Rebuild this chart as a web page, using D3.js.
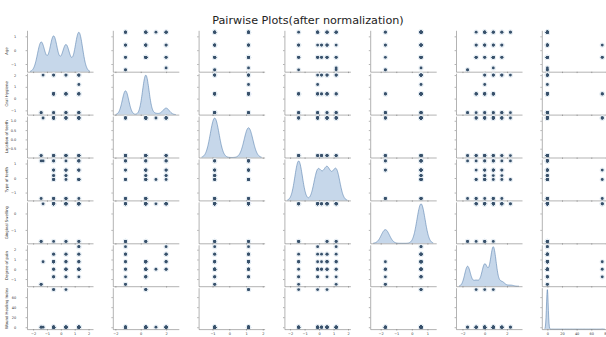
<!DOCTYPE html>
<html><head><meta charset="utf-8">
<script src="https://cdn.jsdelivr.net/npm/d3@7"></script>
<style>body{margin:0;background:#fff}svg{display:block;font-family:"DejaVu Sans",sans-serif}</style>
</head><body>
<svg id="c" width="606" height="337"></svg>
<script>
// ---- DATA (normalized values; each index = a group of identical patients, with its count) ----
const variables = ["Age","Oral Hygiene","Location of teeth","Type of teeth","Gingival Swelling","Degree of pain","Wound Healing Index"];
const age          = [-1.42,-1.42,-1.28, 1.30,-0.52, 0.37,-0.52, 1.30, 1.30, 1.30,-0.52, 0.37,-0.52, 0.37, 1.30,-0.52, 0.37,-0.52, 0.37, 1.30, 1.30, 0.37,-0.52, 0.37, 1.30,-0.52, 1.30, 0.37, 1.30, 0.37,-0.52, 1.30,-0.52, 0.37,-0.52, 1.30, 1.30,-0.52, 0.37, 1.30,-0.52];
const oralHygiene  = [-1.20,-1.20, 2.00, 1.20, 0.40, 0.40, 0.40,-1.20, 2.00,-1.20, 2.00, 0.40, 0.40, 2.00, 2.00,-1.20,-1.20, 0.40, 0.40,-1.20, 0.40, 0.40,-1.20,-1.20, 0.40, 0.40, 2.00, 2.00,-1.20,-1.20, 2.00, 2.00, 0.40, 0.40, 0.40, 0.40, 0.40, 0.40, 0.40, 0.40, 0.40];
const locationTeeth= [-0.87,-0.87, 1.15, 1.15, 1.15, 1.15, 1.15, 1.15,-0.87,-0.87,-0.87,-0.87,-0.87, 1.15, 1.15, 1.15,-0.87, 1.15,-0.87, 1.15,-0.87, 1.15,-0.87,-0.87, 1.15,-0.87,-0.87,-0.87,-0.87, 1.15, 1.15, 1.15,-0.87,-0.87, 1.15,-0.87, 1.15, 1.15, 1.15, 1.15, 1.15];
const typeTeeth    = [-1.41, 1.18, 1.18,-0.10,-0.10, 0.55,-1.41,-0.10, 1.18, 0.55, 0.17, 0.17, 0.17, 0.55,-0.10, 1.18,-0.10,-1.41, 0.55, 0.55,-1.41, 1.18,-0.10,-1.41, 1.18, 0.55, 0.55, 0.17, 1.18,-1.41, 0.55, 1.18,-1.41,-1.41, 1.18,-0.10,-0.10,-0.10, 0.55, 0.55, 0.55];
const gingival     = [-1.70,-1.70, 0.59, 0.59, 0.59, 0.59, 0.59, 0.59, 0.59, 0.59, 0.59, 0.59, 0.59, 0.59, 0.59, 0.59, 0.59,-1.70,-1.70,-1.70, 0.59, 0.59, 0.59,-1.70,-1.70, 0.59, 0.59, 0.59, 0.59, 0.59, 0.59, 0.59, 0.59, 0.59, 0.59, 0.59, 0.59, 0.59, 0.59, 0.59, 0.59];
const pain         = [-1.54,-1.54, 0.77, 0.00,-0.77, 0.00, 0.77, 2.31, 2.31, 1.54, 1.54, 0.77, 0.00, 1.54, 1.54, 1.54,-0.77,-0.77, 0.00, 0.77,-0.77,-0.77, 0.77, 0.00, 0.00,-0.77, 0.00, 0.00, 0.00, 1.54, 0.77, 0.77, 0.77, 0.77, 0.77, 0.00, 0.00, 0.00, 0.77, 0.77, 0.77];
const wound        = [0,0,0,0,75,75,75,0,0,0,0,0,0,0,0,0,0,0,0,0,0,0,0,0,0,0,0,0,0,0,0,0,0,0,0,0,0,0,0,0,0];
const counts       = [120,61,9,13,1,1,1,5,5,8,4,8,5,8,8,7,10,10,10,8,12,10,25,4,3,9,15,2,28,6,14,12,50,49,59,54,40,25,64,40,17];

const xTickLabels = [[-2,-1,0,1,2],[-2,0,2],[-1,0,1,2],[-2,-1,0,1,2],[-2,-1,0,1],[-2,0,2],[0,20,40,60,80]];
const yTickLabels = [[-1,0,1],[-1,0,1,2],[-0.5,0,0.5,1],[-1,0,1],[-1,0],[-1,0,1,2],[0,20,40,60]];
const yTickFormats = ["d","d",".1f","d","d","d","d"];
const title = "Pairwise Plots(after normalization)";

// ---- LAYOUT ----
const left0 = 27, colStep = 85.8, panelW = 66;
const top0 = 30.3, rowStep = 42.9, panelH = 41.4;
const dotColor = "#38516b", kdeFill = "#c6d7ea", kdeLine = "#5b83b0", axisColor = "#666", textColor = "#333";
const fsLabel = 3.9, fsTick = 3.5;

const svg = d3.select("#c");
const cols = [age, oralHygiene, locationTeeth, typeTeeth, gingival, pain, wound];
const k = variables.length;

// Gaussian KDE, Scott's rule, cut = 3, gridsize = 200 (frequency weights)
function kde(values, w) {
  const n = d3.sum(w);
  const mean = d3.sum(values, (v, i) => v * w[i]) / n;
  const variance = d3.sum(values, (v, i) => w[i] * (v - mean) ** 2) / (n - 1);
  const bw = Math.pow(n, -1 / 5) * Math.sqrt(variance);
  const [mn, mx] = d3.extent(values);
  const lo = mn - 3 * bw, hi = mx + 3 * bw;
  const xs = d3.range(200).map(t => lo + (hi - lo) * t / 199);
  const c = 1 / (n * bw * Math.sqrt(2 * Math.PI));
  const ys = xs.map(x => c * d3.sum(values, (v, i) => w[i] * Math.exp(-0.5 * ((x - v) / bw) ** 2)));
  return {lo, hi, xs, ys};
}
const kdes = cols.map(v => kde(v, counts));

const xScales = kdes.map((kd, j) => {
  const pad = (kd.hi - kd.lo) * 0.05;
  return d3.scaleLinear().domain([kd.lo - pad, kd.hi + pad])
    .range([left0 + j * colStep, left0 + j * colStep + panelW]);
});
const yScales = cols.map((v, i) => {
  const [lo, hi] = d3.extent(v), pad = (hi - lo) * 0.05;
  return d3.scaleLinear().domain([lo - pad, hi + pad])
    .range([top0 + i * rowStep + panelH, top0 + i * rowStep]);
});

const idx = d3.range(counts.length);
for (let i = 0; i < k; i++) {
  for (let j = 0; j < k; j++) {
    const g = svg.append("g");
    const x = xScales[j], y = yScales[i];
    if (i === j) {
      const kd = kdes[j];
      const yd = d3.scaleLinear().domain([0, d3.max(kd.ys) * 1.05]).range(y.range());
      const pts = kd.xs.map((xx, t) => [xx, kd.ys[t]]);
      g.append("path").datum(pts)
        .attr("d", d3.area().x(d => x(d[0])).y0(yd(0)).y1(d => yd(d[1])))
        .attr("fill", kdeFill);
      g.append("path").datum(pts)
        .attr("d", d3.line().x(d => x(d[0])).y(d => yd(d[1])))
        .attr("fill", "none").attr("stroke", kdeLine).attr("stroke-width", 0.6);
    } else {
      g.selectAll("circle.halo").data(idx).join("circle").attr("class", "halo")
        .attr("cx", d => x(cols[j][d])).attr("cy", d => y(cols[i][d]))
        .attr("r", 2.6).attr("fill", "#e6edf3");
      g.selectAll("circle.dot").data(idx).join("circle").attr("class", "dot")
        .attr("cx", d => x(cols[j][d])).attr("cy", d => y(cols[i][d]))
        .attr("r", 1.4).attr("fill", dotColor);
    }
    // left spine + ticks
    const yAxis = d3.axisLeft(y).tickValues(yTickLabels[i]).tickSize(1.4).tickSizeOuter(0).tickPadding(9.4)
      .tickFormat(j === 0 ? d3.format(yTickFormats[i]) : () => "");
    const ya = g.append("g").attr("transform", `translate(${x.range()[0]},0)`).call(yAxis);
    // bottom spine + ticks
    const xAxis = d3.axisBottom(x).tickValues(xTickLabels[j]).tickSize(1.4).tickSizeOuter(0).tickPadding(2.5)
      .tickFormat(i === k - 1 ? d3.format("d") : () => "");
    const xa = g.append("g").attr("transform", `translate(0,${y.range()[0]})`).call(xAxis);
    [ya, xa].forEach(a => {
      a.select(".domain").attr("stroke", axisColor).attr("stroke-width", 0.5);
      a.selectAll(".tick line").attr("stroke", axisColor).attr("stroke-width", 0.5);
      a.selectAll(".tick text").attr("fill", textColor).style("font-size", fsTick + "px").style("font-family", "DejaVu Sans");
    });
  }
  // row label
  const yr = yScales[i].range();
  svg.append("text")
    .attr("transform", `translate(6.8,${(yr[0] + yr[1]) / 2}) rotate(-90)`)
    .attr("text-anchor", "middle").attr("dominant-baseline", "central")
    .attr("fill", textColor).style("font-size", fsLabel + "px")
    .text(variables[i]);
}

svg.append("text").attr("x", 308).attr("y", 24).attr("text-anchor", "middle")
  .attr("fill", "#222").style("font-size", "11.2px").text(title);
</script>
</body></html>
